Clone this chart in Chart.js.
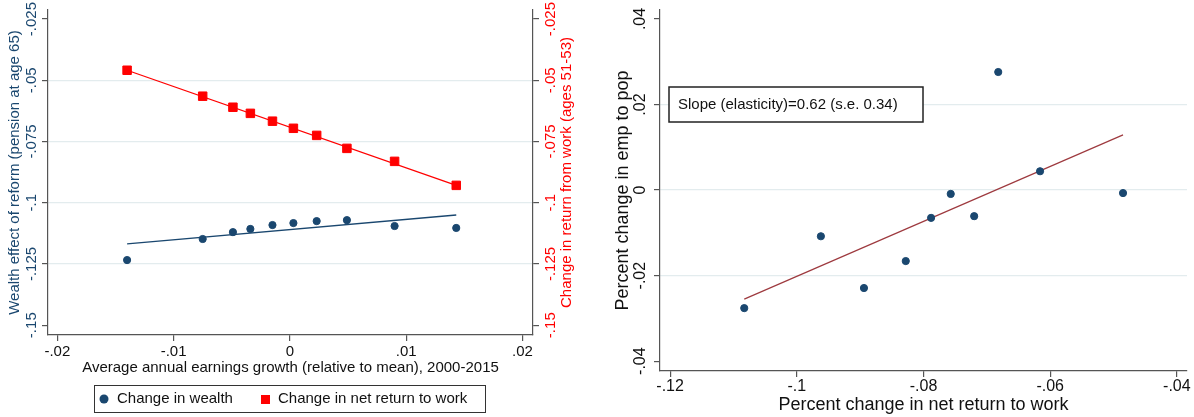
<!DOCTYPE html>
<html>
<head>
<meta charset="utf-8">
<script src="https://cdn.jsdelivr.net/npm/chart.js@4.4.1/dist/chart.umd.min.js"></script>
<style>
  html, body { margin: 0; padding: 0; background: #fff; }
  #wrap { position: relative; width: 1194px; height: 417px; overflow: hidden; }
  canvas { position: absolute; top: 0; }
  #left { left: 0; }
  #right { left: 590px; }
</style>
</head>
<body>
<div id="wrap">
  <canvas id="left" width="590" height="417"></canvas>
  <canvas id="right" width="604" height="417"></canvas>
</div>
<script>
// left panel: earnings growth groups
const growth = [-0.0140, -0.0075, -0.0049, -0.0034, -0.0015, 0.0003, 0.0023, 0.0049, 0.0090, 0.0143];
const wealthEffect = [-0.1234, -0.1148, -0.1120, -0.1107, -0.1091, -0.1083, -0.1075, -0.1071, -0.1095, -0.1103];
const returnChange = [-0.0459, -0.0565, -0.0610, -0.0635, -0.0667, -0.0696, -0.0725, -0.0778, -0.0831, -0.0929];
const wealthFitX = [-0.0140, 0.0143];
const wealthFitY = [-0.1168, -0.1050];
const returnFitX = [-0.0140, 0.0143];
const returnFitY = [-0.0459, -0.0929];

// right panel: emp to pop vs net return
const netReturn = [-0.1083, -0.0962, -0.0894, -0.0828, -0.0788, -0.0757, -0.0720, -0.0682, -0.0616, -0.0485];
const empToPop = [-0.0276, -0.0108, -0.0229, -0.0166, -0.0065, -0.0009, -0.0061, 0.0276, 0.0044, -0.0007];
const empFitX = [-0.1083, -0.0485];
const empFitY = [-0.0255, 0.0129];

const leftXTicks = [-0.02, -0.01, 0, 0.01, 0.02];
const leftXLabels = ['-.02', '-.01', '0', '.01', '.02'];
const leftYTicks = [-0.15, -0.125, -0.1, -0.075, -0.05, -0.025];
const leftYLabels = ['-.15', '-.125', '-.1', '-.075', '-.05', '-.025'];
const rightXTicks = [-0.12, -0.1, -0.08, -0.06, -0.04];
const rightXLabels = ['-.12', '-.1', '-.08', '-.06', '-.04'];
const rightYTicks = [-0.04, -0.02, 0, 0.02, 0.04];
const rightYLabels = ['-.04', '-.02', '0', '.02', '.04'];

const NAVY = '#1a476f', RED = '#ff0000', MAROON = '#9e3a3f';
const GRID = '#e3ecee', AXIS = '#555555', INK = '#111111';
const FONT = '"Liberation Sans", Arial, Helvetica, sans-serif';

function pts(xs, ys) {
  return xs.map((x, i) => ({ x: x, y: ys[i] }));
}

function fixTicks(values) {
  return function (scale) { scale.ticks = values.map(v => ({ value: v })); };
}

function innerGrid(values) {
  return c => (c.index > 0 && c.index < values.length - 1) ? GRID : 'rgba(0,0,0,0)';
}

function text(ctx, str, x, y, size, color, align, vertical) {
  ctx.save();
  ctx.font = size + 'px ' + FONT;
  ctx.fillStyle = color;
  ctx.textAlign = align;
  ctx.textBaseline = 'middle';
  ctx.translate(x, y);
  if (vertical) ctx.rotate(-Math.PI / 2);
  ctx.fillText(str, 0, 0);
  ctx.restore();
}

function axisOpts(extra) {
  return Object.assign({
    type: 'linear',
    ticks: { display: false },
    grid: { drawOnChartArea: false, tickLength: 6, tickColor: AXIS, lineWidth: 1.2 },
    border: { color: AXIS, width: 1.2 }
  }, extra);
}

const leftText = {
  id: 'leftText',
  afterDraw(chart) {
    const c = chart.ctx, s = chart.scales, a = chart.chartArea;
    leftYTicks.forEach((v, i) => {
      text(c, leftYLabels[i], 32, s.yL.getPixelForValue(v), 15, NAVY, 'center', true);
      text(c, leftYLabels[i], 551, s.yR.getPixelForValue(v), 15, RED, 'center', true);
    });
    leftXTicks.forEach((v, i) => text(c, leftXLabels[i], s.x.getPixelForValue(v), 352, 15, INK, 'center', false));
    const mid = (a.top + a.bottom) / 2;
    text(c, 'Wealth effect of reform (pension at age 65)', 15, mid, 15, NAVY, 'center', true);
    text(c, 'Change in return from work (ages 51-53)', 567, mid, 15, RED, 'center', true);
    text(c, 'Average annual earnings growth (relative to mean), 2000-2015', (a.left + a.right) / 2, 368, 15, INK, 'center', false);

    // legend
    c.save();
    c.strokeStyle = '#333';
    c.lineWidth = 1;
    c.strokeRect(94.5, 385.5, 391, 27);
    c.fillStyle = NAVY;
    c.beginPath();
    c.arc(104, 399, 4.5, 0, Math.PI * 2);
    c.fill();
    c.fillStyle = RED;
    c.fillRect(261, 395, 9, 9);
    c.restore();
    text(c, chart.data.datasets[0].label, 117, 399, 15, INK, 'left', false);
    text(c, chart.data.datasets[1].label, 278, 399, 15, INK, 'left', false);
  }
};

const rightText = {
  id: 'rightText',
  afterDraw(chart) {
    const c = chart.ctx, s = chart.scales, a = chart.chartArea;
    rightYTicks.forEach((v, i) => text(c, rightYLabels[i], 51, s.y.getPixelForValue(v), 16, INK, 'center', true));
    rightXTicks.forEach((v, i) => text(c, rightXLabels[i], s.x.getPixelForValue(v), 387, 16, INK, 'center', false));
    text(c, 'Percent change in emp to pop', 33, (a.top + a.bottom) / 2, 18, INK, 'center', true);
    text(c, 'Percent change in net return to work', (a.left + a.right) / 2, 405, 18, INK, 'center', false);

    c.save();
    c.fillStyle = '#fff';
    c.fillRect(79, 87, 254, 35);
    c.strokeStyle = '#222';
    c.lineWidth = 1.5;
    c.strokeRect(79, 87, 254, 35);
    c.restore();
    text(c, 'Slope (elasticity)=0.62 (s.e. 0.34)', 88, 105, 15, INK, 'left', false);
  }
};

new Chart(document.getElementById('left'), {
  type: 'scatter',
  data: {
    datasets: [
      { label: 'Change in wealth', data: pts(growth, wealthEffect), yAxisID: 'yL',
        pointStyle: 'circle', pointRadius: 3.6, pointBorderWidth: 1, backgroundColor: NAVY, borderColor: NAVY },
      { label: 'Change in net return to work', data: pts(growth, returnChange), yAxisID: 'yR',
        pointStyle: 'rect', pointRadius: 6, pointBorderWidth: 1, backgroundColor: RED, borderColor: RED },
      { label: 'wealth fit', data: pts(wealthFitX, wealthFitY), yAxisID: 'yL', showLine: true,
        pointRadius: 0, borderColor: NAVY, borderWidth: 1.3 },
      { label: 'return fit', data: pts(returnFitX, returnFitY), yAxisID: 'yR', showLine: true,
        pointRadius: 0, borderColor: RED, borderWidth: 1.3 }
    ]
  },
  options: {
    responsive: false,
    animation: false,
    layout: { padding: { top: 10, left: 0, right: 0, bottom: 0 } },
    plugins: { legend: { display: false }, tooltip: { enabled: false } },
    scales: {
      x: axisOpts({ position: 'bottom', min: -0.0208, max: 0.0209,
        afterBuildTicks: fixTicks(leftXTicks), afterFit: s => { s.height = 82; } }),
      yL: axisOpts({ axis: 'y', position: 'left', min: -0.154, max: -0.0213,
        afterBuildTicks: fixTicks(leftYTicks), afterFit: s => { s.width = 48; },
        grid: { color: innerGrid(leftYTicks), lineWidth: 1.2, tickLength: 6, tickColor: AXIS } }),
      yR: axisOpts({ axis: 'y', position: 'right', min: -0.154, max: -0.0213,
        afterBuildTicks: fixTicks(leftYTicks), afterFit: s => { s.width = 57; } })
    }
  },
  plugins: [leftText]
});

new Chart(document.getElementById('right'), {
  type: 'scatter',
  data: {
    datasets: [
      { label: 'States', data: pts(netReturn, empToPop),
        pointStyle: 'circle', pointRadius: 3.6, pointBorderWidth: 1, backgroundColor: NAVY, borderColor: NAVY },
      { label: 'Fit', data: pts(empFitX, empFitY), showLine: true,
        pointRadius: 0, borderColor: MAROON, borderWidth: 1.2 }
    ]
  },
  options: {
    responsive: false,
    animation: false,
    layout: { padding: { top: 10, left: 0, right: 7, bottom: 0 } },
    plugins: { legend: { display: false }, tooltip: { enabled: false } },
    scales: {
      x: axisOpts({ position: 'bottom', min: -0.1216, max: -0.0384,
        afterBuildTicks: fixTicks(rightXTicks), afterFit: s => { s.height = 46; } }),
      y: axisOpts({ position: 'left', min: -0.0423, max: 0.0421,
        afterBuildTicks: fixTicks(rightYTicks), afterFit: s => { s.width = 70; },
        grid: { color: innerGrid(rightYTicks), lineWidth: 1.2, tickLength: 6, tickColor: AXIS } })
    }
  },
  plugins: [rightText]
});
</script>
</body>
</html>
